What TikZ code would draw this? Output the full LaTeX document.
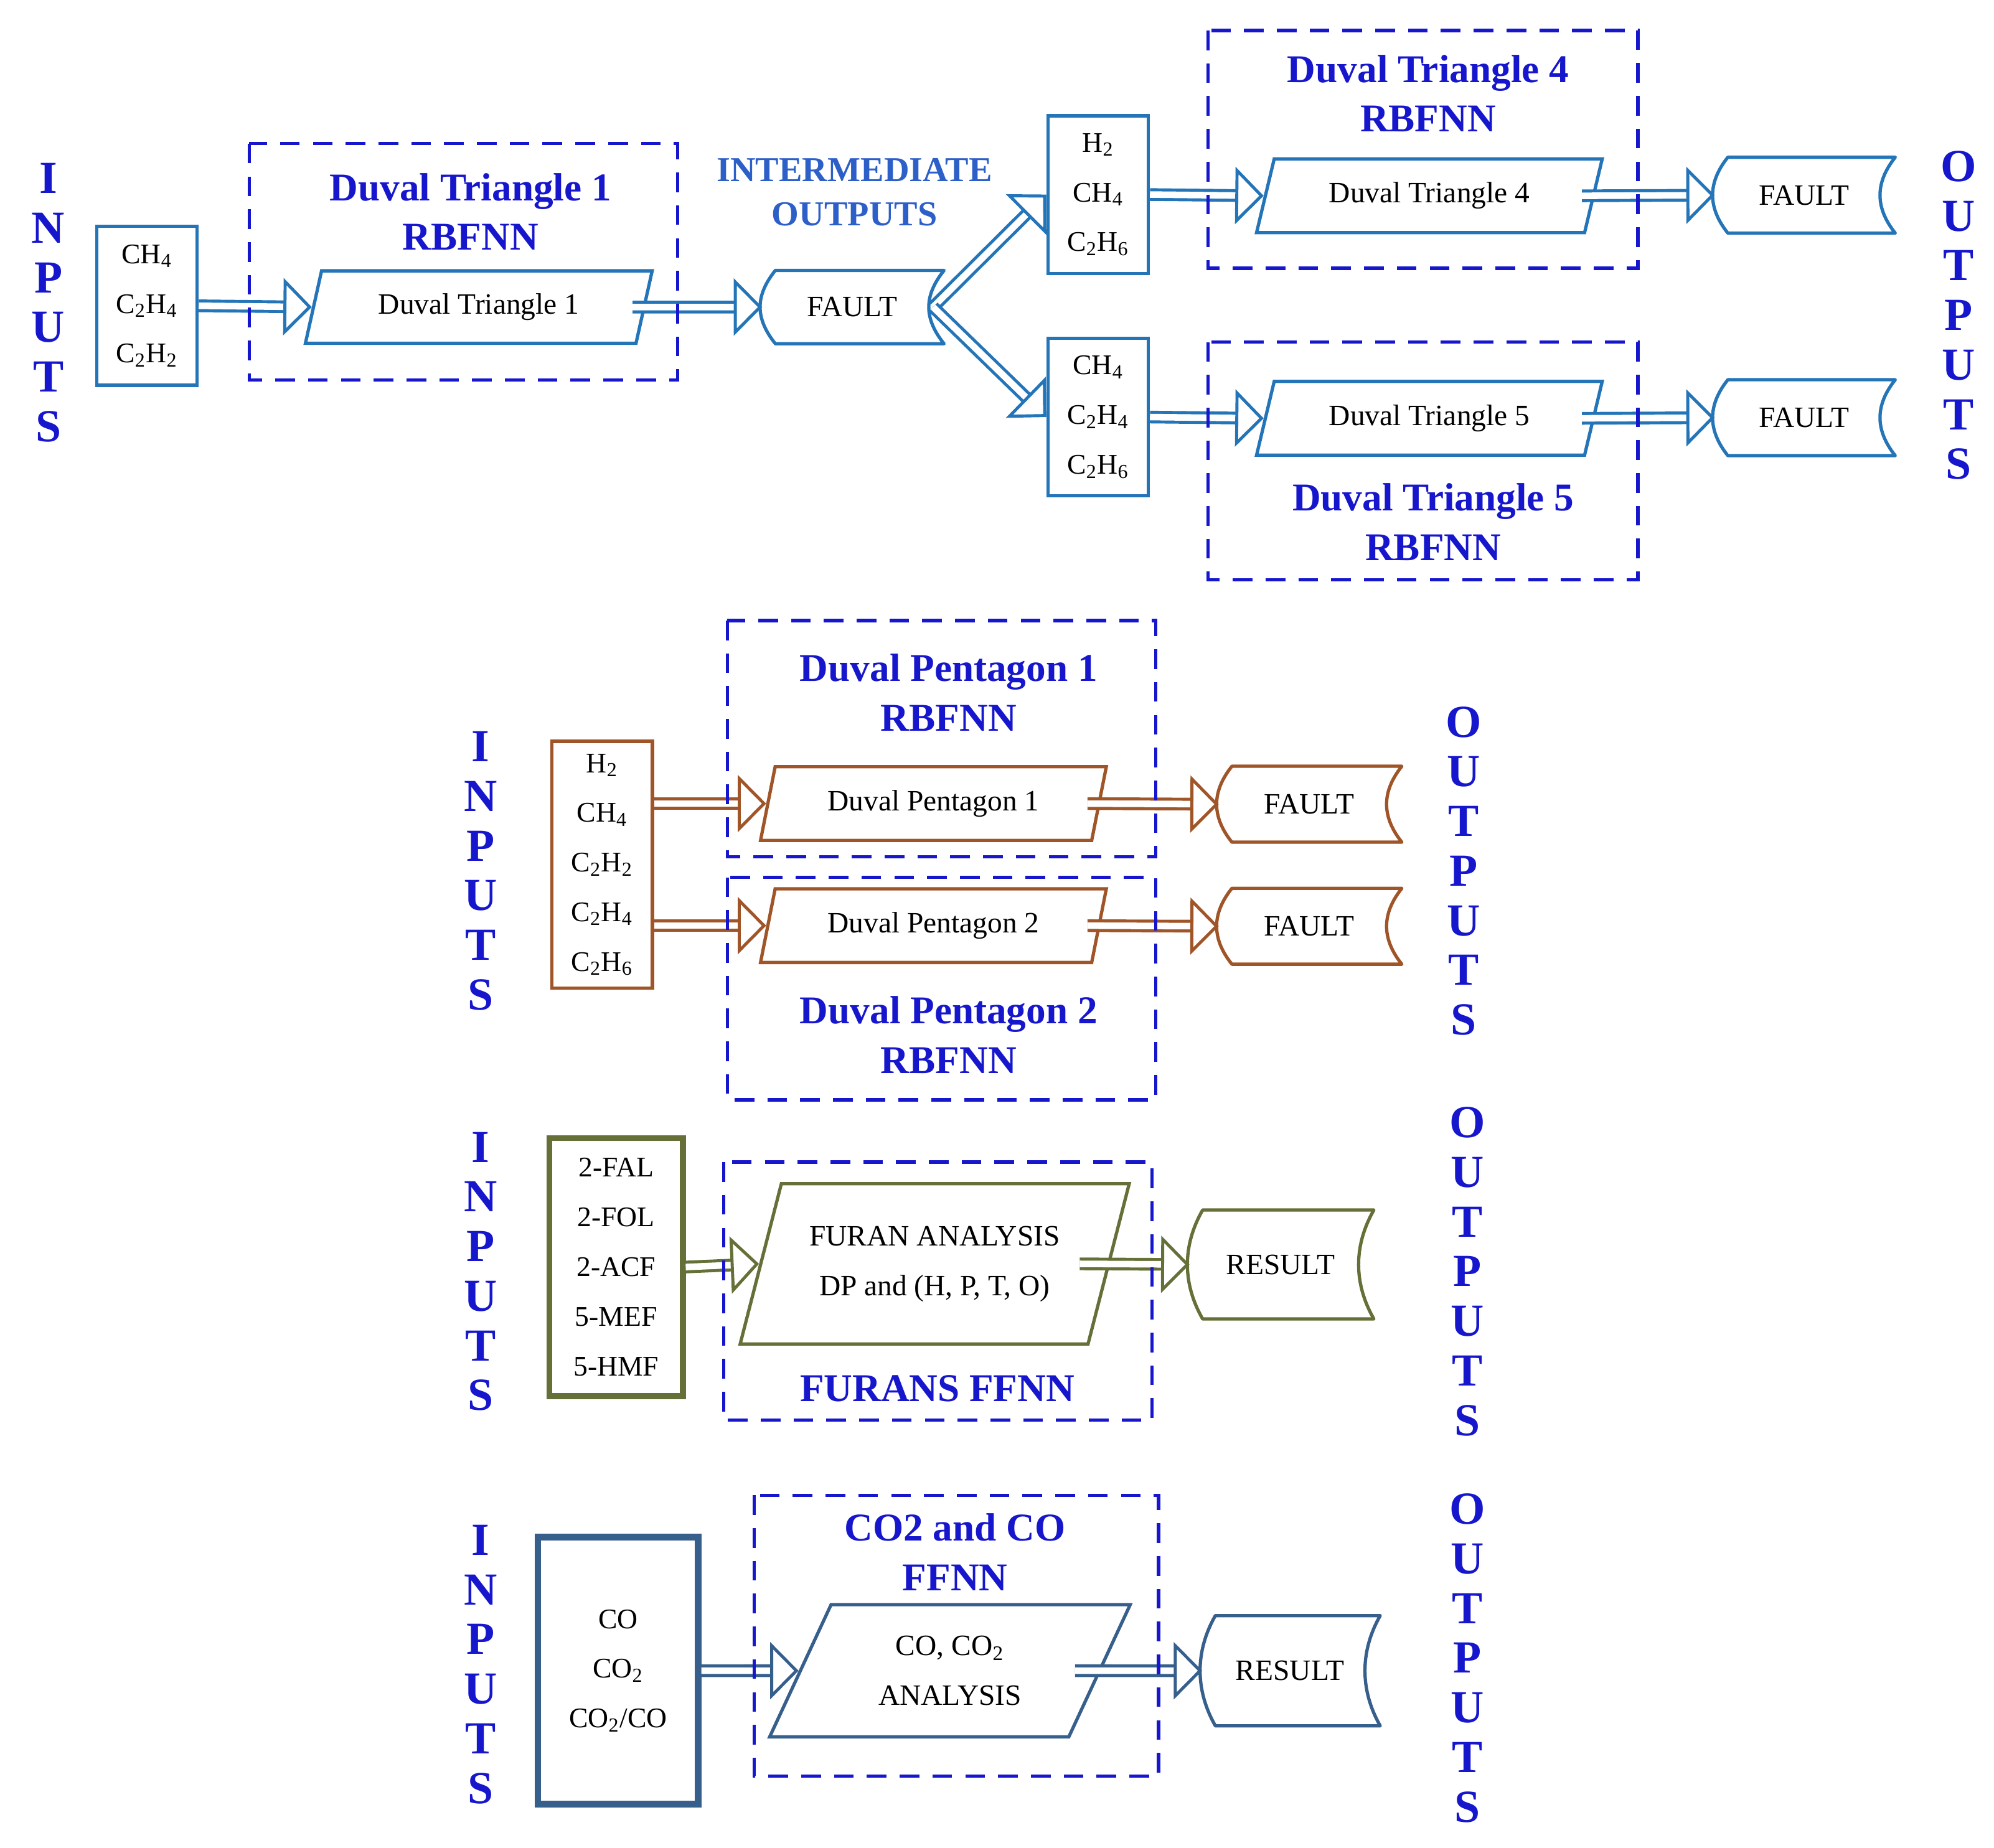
\documentclass[tikz,border=0pt]{standalone}
\usepackage{fontspec}
\setmainfont{Liberation Serif}
\usetikzlibrary{shapes.geometric,arrows.meta}
\definecolor{topc}{RGB}{36,116,184}
\definecolor{dblue}{RGB}{22,22,205}
\definecolor{interc}{RGB}{45,95,200}
\definecolor{brownc}{RGB}{160,85,40}
\definecolor{olivec}{RGB}{100,112,55}
\definecolor{steelc}{RGB}{55,95,140}
\newcommand\mystored[3]{\draw[#2,line width=1.5pt,line join=round] ([xshift=7pt]#1.north west) -- (#1.north east) .. controls +(-16,#3) and +(-16,-#3) .. (#1.south east) -- ([xshift=7pt]#1.south west) .. controls +(-16,-#3) and +(-16,#3) .. ([xshift=7pt]#1.north west) -- cycle;}
\begin{document}
\begin{tikzpicture}[x=0.02043cm,y=-0.02043cm,
 vert/.style={font=\fontsize{21}{22.7}\selectfont\bfseries,text=dblue,align=center,inner sep=0},
 title/.style={font=\fontsize{18}{22.7}\selectfont\bfseries,text=dblue,align=center,inner sep=0},
 dbox/.style={draw=dblue,line width=1.5pt,dash pattern=on 9pt off 6pt},
 inbox/.style={draw,line width=1.5pt,align=center,font=\fontsize{13}{22.7}\selectfont,inner sep=0},
 para/.style={draw,line width=1.5pt,trapezium,trapezium stretches=true,font=\fontsize{13.5}{22.7}\selectfont,align=center,inner sep=0},
 stor/.style={draw=none,rectangle,inner sep=0,font=\fontsize{13.5}{14}\selectfont},
 dar/.style={double,double distance=3pt,line width=1.4pt,-{Triangle[open,length=13pt,width=26pt,line width=1.4pt]}},
]
\useasboundingbox (0,0) rectangle (1568,1453);
% ===== top section =====
\node[vert] (in1) at (38,238) {I\\N\\P\\U\\T\\S};
\node[vert] (out1) at (1540,248) {O\\U\\T\\P\\U\\T\\S};
\node[inbox,draw=topc,minimum width=79*0.5813pt,minimum height=125*0.5813pt] (b1) at (115.5,240.5) {CH\textsubscript{4}\\C\textsubscript{2}H\textsubscript{4}\\C\textsubscript{2}H\textsubscript{2}};
\node[para,draw=topc,trapezium left angle=69,trapezium right angle=111,minimum width=273*0.5813pt,minimum height=57*0.5813pt] (dt1) at (376.5,241.5) {Duval Triangle 1};
\node[stor,minimum width=144*0.5813pt,minimum height=57*0.5813pt] (f0) at (670,241.5) {FAULT};
\mystored{f0}{topc}{20}
\node[font=\fontsize{16}{20.3}\selectfont\bfseries,text=interc,align=center] (io) at (672,151) {INTERMEDIATE\\OUTPUTS};
\node[inbox,draw=topc,minimum width=79*0.5813pt,minimum height=124*0.5813pt] (b2) at (863.5,153) {H\textsubscript{2}\\CH\textsubscript{4}\\C\textsubscript{2}H\textsubscript{6}};
\node[inbox,draw=topc,minimum width=79*0.5813pt,minimum height=124*0.5813pt] (b3) at (863.5,328) {CH\textsubscript{4}\\C\textsubscript{2}H\textsubscript{4}\\C\textsubscript{2}H\textsubscript{6}};
\node[para,draw=topc,trapezium left angle=67,trapezium right angle=113,minimum width=272*0.5813pt,minimum height=58*0.5813pt] (dt4) at (1124,154) {Duval Triangle 4};
\node[para,draw=topc,trapezium left angle=67,trapezium right angle=113,minimum width=272*0.5813pt,minimum height=58*0.5813pt] (dt5) at (1124,329) {Duval Triangle 5};
\node[stor,minimum width=143*0.5813pt,minimum height=59*0.5813pt] (f4) at (1418.5,153.5) {FAULT};
\mystored{f4}{topc}{20}
\node[stor,minimum width=143*0.5813pt,minimum height=59*0.5813pt] (f5) at (1418.5,328.5) {FAULT};
\mystored{f5}{topc}{20}
\draw[dar,topc] (b1.east) -- (dt1.west);
\draw[dar,topc] ([xshift=-6pt]dt1.east) -- ([xshift=1pt]f0.west);
\draw[dar,topc] ([xshift=-5pt]f0.east) -- (b2.west);
\draw[dar,topc] ([xshift=-5pt]f0.east) -- (b3.west);
\draw[dar,topc] (b2.east) -- (dt4.west);
\draw[dar,topc] (b3.east) -- (dt5.west);
\draw[dar,topc] ([xshift=-6pt]dt4.east) -- ([xshift=1pt]f4.west);
\draw[dar,topc] ([xshift=-6pt]dt5.east) -- ([xshift=1pt]f5.west);
\draw[dbox] (196,113) rectangle (533,299);
\node[title] (t1) at (370,166.5) {Duval Triangle 1\\RBFNN};
\draw[dbox] (950,24) rectangle (1288,211);
\node[title] (t4) at (1123,73.5) {Duval Triangle 4\\RBFNN};
\draw[dbox] (950,269) rectangle (1288,456);
\node[title] (t5) at (1127,410.5) {Duval Triangle 5\\RBFNN};
% ===== pentagon section =====
\node[vert] (in2) at (378,685) {I\\N\\P\\U\\T\\S};
\node[vert] (out2) at (1151,685) {O\\U\\T\\P\\U\\T\\S};
\node[inbox,draw=brownc,minimum width=79*0.5813pt,minimum height=194*0.5813pt] (b4) at (473.5,680) {H\textsubscript{2}\\CH\textsubscript{4}\\C\textsubscript{2}H\textsubscript{2}\\C\textsubscript{2}H\textsubscript{4}\\C\textsubscript{2}H\textsubscript{6}};
\node[para,draw=brownc,trapezium left angle=70,trapezium right angle=110,minimum width=272*0.5813pt,minimum height=58*0.5813pt] (dp1) at (734,632) {Duval Pentagon 1};
\node[para,draw=brownc,trapezium left angle=70,trapezium right angle=110,minimum width=272*0.5813pt,minimum height=58*0.5813pt] (dp2) at (734,728) {Duval Pentagon 2};
\node[stor,minimum width=145*0.5813pt,minimum height=59*0.5813pt] (f6) at (1029.5,632.5) {FAULT};
\mystored{f6}{brownc}{20}
\node[stor,minimum width=145*0.5813pt,minimum height=59*0.5813pt] (f7) at (1029.5,728.5) {FAULT};
\mystored{f7}{brownc}{20}
\draw[dar,brownc] (b4.east |- dp1.west) -- (dp1.west);
\draw[dar,brownc] (b4.east |- dp2.west) -- (dp2.west);
\draw[dar,brownc] ([xshift=-6pt]dp1.east) -- ([xshift=1pt]f6.west);
\draw[dar,brownc] ([xshift=-6pt]dp2.east) -- ([xshift=1pt]f7.west);
\draw[dbox] (572,488) rectangle (909,674);
\node[title] (t6) at (746,544.5) {Duval Pentagon 1\\RBFNN};
\draw[dbox] (572,690) rectangle (909,865);
\node[title] (t7) at (746,814) {Duval Pentagon 2\\RBFNN};
% ===== furan section =====
\node[vert] (in3) at (378,1000) {I\\N\\P\\U\\T\\S};
\node[vert] (out3) at (1154,1000) {O\\U\\T\\P\\U\\T\\S};
\node[inbox,draw=olivec,line width=2.6pt,minimum width=105*0.5813pt,minimum height=203*0.5813pt] (b5) at (484.5,996.5) {2-FAL\\2-FOL\\2-ACF\\5-MEF\\5-HMF};
\node[para,draw=olivec,trapezium left angle=66,trapezium right angle=114,minimum width=306*0.5813pt,minimum height=126*0.5813pt] (fa) at (735,994) {FURAN ANALYSIS\\DP and (H, P, T, O)};
\node[stor,minimum width=146*0.5813pt,minimum height=85*0.5813pt] (r1) at (1007,994.5) {RESULT};
\mystored{r1}{olivec}{28}
\draw[dar,olivec] (b5.east) -- (fa.west);
\draw[dar,olivec] ([xshift=-14pt]fa.east) -- ([xshift=1pt]r1.west);
\draw[dbox] (569,914) rectangle (906,1117);
\node[title] (t8) at (737,1092) {FURANS FFNN};
% ===== CO section =====
\node[vert] (in4) at (378,1309) {I\\N\\P\\U\\T\\S};
\node[vert] (out4) at (1154,1304) {O\\U\\T\\P\\U\\T\\S};
\node[inbox,draw=steelc,line width=3pt,minimum width=126*0.5813pt,minimum height=210*0.5813pt] (b6) at (486,1314) {CO\\CO\textsubscript{2}\\CO\textsubscript{2}/CO};
\node[para,draw=steelc,trapezium left angle=62,trapezium right angle=118,minimum width=286*0.5813pt,minimum height=104*0.5813pt] (ca) at (747,1314) {CO, CO\textsubscript{2}\\ANALYSIS};
\node[stor,minimum width=141*0.5813pt,minimum height=86*0.5813pt] (r2) at (1014.5,1314) {RESULT};
\mystored{r2}{steelc}{28}
\draw[dar,steelc] (b6.east) -- (ca.west);
\draw[dar,steelc] ([xshift=-12pt]ca.east) -- ([xshift=1pt]r2.west);
\draw[dbox] (593,1176) rectangle (911,1397);
\node[title] (t9) at (751,1220.5) {CO2 and CO\\FFNN};
\end{tikzpicture}
\end{document}
